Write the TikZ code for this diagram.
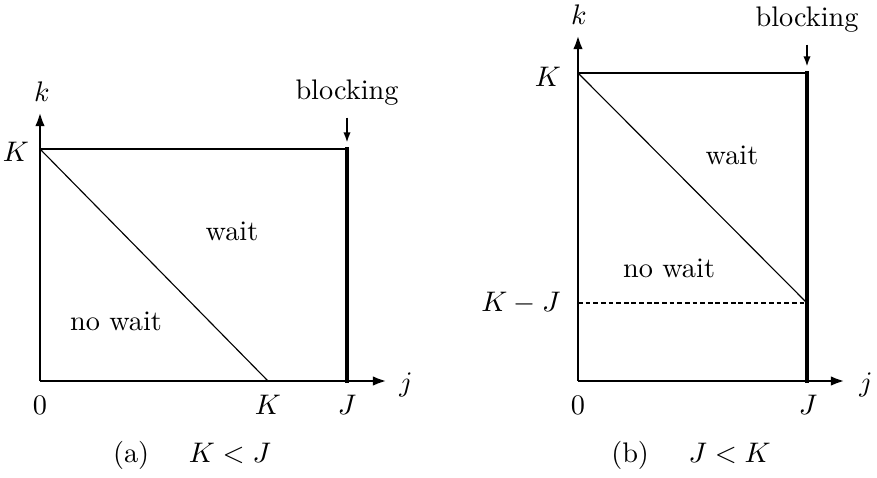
\documentclass[tikz,border=0pt]{standalone}
\usepackage{tikz}
\usetikzlibrary{arrows.meta}

\begin{document}
\begin{tikzpicture}[x=0.3535pt, y=-0.3535pt,
      every node/.style={font=\normalsize, inner sep=0pt},
      axis/.style={line width=1pt, -{Latex[length=5pt, width=3.4pt]}},
      frame/.style={line width=1pt},
      blockline/.style={line width=1.4pt, line cap=rect},
      diag/.style={line width=0.4pt},
      level/.style={line width=0.6pt, dash pattern=on 1.7pt off 1pt},
      blockarrow/.style={line width=0.55pt, -{Latex[length=3.6pt, width=2.6pt]}, shorten <=4pt, shorten >=2.3pt}]
    \useasboundingbox (0,0) rectangle (877,477);

    % (a) K < J
    \coordinate (o1) at (40,381);
    \coordinate (xt1) at (387,381);
    \coordinate (yt1) at (40,112);
    \coordinate (tl1) at (40,149);
    \coordinate (tr1) at (347,149);
    \coordinate (br1) at (347,381);
    \coordinate (kx1) at (268,381);
    \draw[frame] (tl1) -- (tr1);
    \draw[blockline] (tr1) -- (br1);
    \draw[diag] (tl1) -- (kx1);
    \draw[axis] (o1) -- (xt1);
    \draw[axis] (o1) -- (yt1);
    \node (k1) at (42,92) {$k$};
    \node (j1) at (406,385) {$j$};
    \node (ky1) at (16,152) {$K$};
    \node (zero1) at (40,405) {$0$};
    \node (kl1) at (268,405) {$K$};
    \node (jl1) at (347,405) {$J$};
    \node (wait1) at (232,231) {wait};
    \node (nowait1) at (116,321) {no wait};
    \node (blk1) at (347,93) {blocking};
    \draw[blockarrow] (blk1) -- (tr1);
    \node[anchor=base] (cap1) at (192,462) {(a)\hspace{14pt}$K<J$};

    % (b) J < K
    \coordinate (o2) at (578,381);
    \coordinate (xt2) at (845,381);
    \coordinate (yt2) at (578,35);
    \coordinate (tl2) at (578,73);
    \coordinate (tr2) at (807,73);
    \coordinate (br2) at (807,381);
    \coordinate (lv2) at (578,303);
    \coordinate (rv2) at (807,303);
    \draw[frame] (tl2) -- (tr2);
    \draw[blockline] (tr2) -- (br2);
    \draw[diag] (tl2) -- (rv2);
    \draw[level] (lv2) -- (rv2);
    \draw[axis] (o2) -- (xt2);
    \draw[axis] (o2) -- (yt2);
    \node (k2) at (579,15) {$k$};
    \node (j2) at (866,385) {$j$};
    \node (ky2) at (548,77) {$K$};
    \node[anchor=east] (kj2) at (561,303) {$K-J$};
    \node (zero2) at (578,405) {$0$};
    \node (jl2) at (808,405) {$J$};
    \node (wait2) at (732,155) {wait};
    \node (nowait2) at (669,268) {no wait};
    \node (blk2) at (807,20) {blocking};
    \draw[blockarrow] (blk2) -- (tr2);
    \node[anchor=base] (cap2) at (691,462) {(b)\hspace{14pt}$J<K$};
  \end{tikzpicture}
\end{document}
